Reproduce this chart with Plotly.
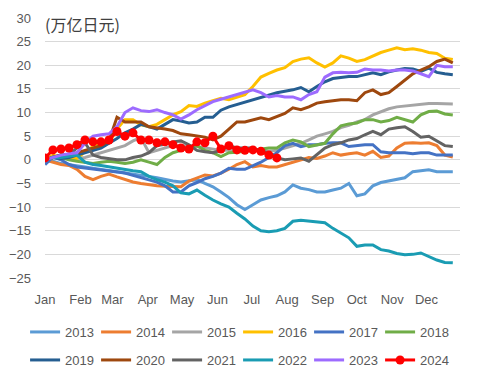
import plotly.graph_objects as go

# ---- data (weekly cumulative values, 万亿日元) ----
months = ["Jan", "Feb", "Mar", "Apr", "May", "Jun", "Jul", "Aug", "Sep", "Oct", "Nov", "Dec"]
month_start_day = [0, 31, 59, 90, 120, 151, 181, 212, 243, 273, 304, 334]
y_ticks = [-25, -20, -15, -10, -5, 0, 5, 10, 15, 20, 25, 30]

y2013 = [0, -0.3, -0.8, -1, -1.2, -1.5, -1.8, -2, -2.2, -2.5, -2.8, -3, -3.2, -3.5, -3.8, -4.2,
         -4.5, -4.7, -4.5, -4.2, -5, -5.7, -6.8, -8, -9.5, -10.5, -9.5, -8.5, -8, -7.6, -6.8, -5.3,
         -6, -6.3, -6.8, -6.8, -6.4, -6, -5, -7.6, -7.2, -5.5, -4.8, -4.5, -4.2, -3.8, -2.5, -2.3,
         -2.1, -2.5, -2.5, -2.5]
y2014 = [0, -0.5, -1, -1.2, -2, -3.5, -4.2, -3.5, -3, -3.6, -4.2, -4.7, -5, -5.3, -5.5, -5.6,
         -5.6, -5.7, -4.5, -3.8, -3.2, -3.4, -2.8, -2, -1, -0.4, -1.5, -1.2, -1.5, -1.5, -1, -0.5,
         0, 0.5, 0.3, 0.8, 1.5, 1, 1.3, 1.5, 1, 1.8, 0.5, 0.8, 2.5, 3.5, 3.6, 3.5, 3.6, 3, 1, 0.6]
y2015 = [0, 0.5, 1, 0.5, 0.3, 0.5, 1, 1.5, 2, 2.5, 3, 4, 4.7, 1.5, 2, 2.5, 3, 3, 3, 2.8, 2.5, 2.3,
         2, 2, 2, 2, 2, 2, 1.8, 2, 2.5, 3, 3.5, 4.2, 5, 5.5, 6, 6.8, 7.3, 8, 8.5, 9.5, 10.2, 10.8,
         11.2, 11.4, 11.6, 11.7, 11.9, 11.9, 11.8, 11.8]
y2016 = [0, 1, 0.5, 0.3, 0.3, 1.7, 2.8, 3.3, 3.6, 6.5, 8.5, 8.5, 7.4, 7, 7.5, 8.5, 9.5, 10.2, 11.5,
         11.3, 12, 12.5, 13, 12.7, 13.3, 13.8, 15.5, 17.5, 18.3, 19, 19.5, 20.8, 21.3, 21.6, 20.5,
         19.6, 20.5, 22, 21.5, 20.8, 21.2, 22, 22.7, 23.2, 23.7, 23.3, 23.5, 23.2, 22.7, 22.5, 21.5, 21.2]
y2017 = [-1, 0.6, 0, -1, -1.5, -1.7, -2, -2.1, -2.4, -2.6, -2.8, -3.3, -3.8, -4.2, -4.7, -5.5, -6.8,
         -6.8, -5.5, -4.8, -4, -3.5, -2.8, -1.8, -2, -2, -1.2, -0.5, 0.5, 1.5, 3, 3.5, 2.8, 3.2, 3.2,
         3.5, 3.6, 3.6, 2.8, 3, 3.2, 3.2, 1.7, 1.5, 1.5, 1.5, 1.3, 1.5, 1.5, 1, 1, 1]
y2018 = [0, 0.5, 0.5, 0, -0.3, -0.5, -0.8, -0.5, -0.3, -0.5, -0.8, -0.5, 0, -0.5, -1, 0.5, 1.5, 2,
         2.5, 3, 2, 1.5, 0.7, 1.5, 1.6, 1.8, 2, 2.2, 2.5, 2.5, 3.6, 4.2, 3.8, 2.8, 3.2, 3.5, 5.5, 7.2,
         7.6, 7.8, 8.5, 8.5, 8, 8.3, 9, 8.5, 8, 9.5, 10.2, 10.3, 9.7, 9.5]
y2019 = [0, 0.5, 0.3, 0.5, 1, 1.5, 2, 2.5, 3.5, 4.5, 5.7, 6.5, 7.5, 7, 6.5, 7.5, 8.5, 8.2, 7.8, 8,
         9, 9, 10.5, 11.2, 11.7, 12.2, 12.6, 13.1, 13.6, 14.2, 14.5, 14.8, 15.3, 14.4, 15.5, 16.5,
         17.2, 17.4, 17.6, 17.6, 18, 18.4, 18, 18.6, 19, 19.3, 19.2, 18.7, 19.4, 18.5, 18.2, 18]
y2020 = [0, 0.5, 1, 1, 1.5, 2, 2.5, 3, 4, 9, 8, 8, 8, 7, 6.8, 6.5, 6.2, 5.5, 5.3, 5, 4.8, 4.2, 5,
         6.5, 8, 8, 8.5, 8.9, 8.5, 9.1, 9.8, 11, 10.6, 11.2, 12, 12.3, 12.5, 12.7, 12.7, 12.5, 14.2,
         14.8, 13.8, 14.2, 15.5, 16.8, 18.2, 19, 19.7, 20.8, 21.3, 20.5]
y2021 = [0, 0.5, 1, 1, 2.5, 3.6, 1, 0.5, 0.3, 0, 0, 0.5, 0.8, 1.5, 3, 3.3, 3.8, 4, 3.2, 2, 1.7, 1.5,
         2, 3, 2.5, 2.5, 2.5, 1.8, 1.5, 0.4, 0, 0.2, 0.4, -0.3, 1.2, 2.5, 3.2, 3.6, 4.2, 4.5, 5.3, 6,
         5.3, 6.5, 6.8, 7, 6, 4.8, 5, 4, 3, 2.8]
y2022 = [0, 0.5, 0.5, 0.8, 1, -0.5, -1, -1.2, -1.5, -1.7, -2, -2.3, -2.5, -3.5, -4.2, -4.7, -5.5,
         -7, -7.2, -6.4, -7.5, -8.5, -9.3, -10, -11.3, -12.5, -14, -15, -15.2, -15, -14.5, -13,
         -12.8, -13, -13.2, -13.3, -14.5, -15.5, -16.5, -18.3, -18, -18, -19, -19.3, -19.8, -20.1,
         -20, -19.7, -20.5, -21.2, -21.7, -21.8]
y2023 = [0, 0.5, 1, 1.3, 1.5, 3.5, 5, 5.3, 5.5, 7, 10, 11, 10.4, 10.2, 10.6, 10, 9.5, 8.6, 9.5,
         10.6, 11.5, 12.3, 12.8, 13.3, 13.8, 14.4, 14.8, 14.2, 13.3, 13.6, 13.3, 13.3, 12.7, 13.8,
         14.4, 17.5, 18.4, 18.5, 18.4, 18.5, 19.2, 19, 19, 18.8, 19, 19, 18.8, 18.2, 17.6, 20, 19.7, 19.7]
y2024 = [0.4, 2.1, 2.3, 2.5, 3.2, 4.2, 3.8, 3.8, 4.2, 6, 5, 5.7, 4.2, 4.2, 3.6, 3.8, 3.2, 2.5, 2.3,
         3.8, 3.6, 5, 2.3, 3, 2.1, 2, 2.1, 1.8, 1, 0.4]

series = [
    ("2013", y2013, "#5B9BD5"), ("2014", y2014, "#ED7D31"), ("2015", y2015, "#A5A5A5"),
    ("2016", y2016, "#FFC000"), ("2017", y2017, "#4472C4"), ("2018", y2018, "#70AD47"),
    ("2019", y2019, "#255E91"), ("2020", y2020, "#9E480E"), ("2021", y2021, "#636363"),
    ("2022", y2022, "#1A9CB3"), ("2023", y2023, "#9D6BFF"), ("2024", y2024, "#FF0000"),
]

fig = go.Figure()
for i, (name, vals, color) in enumerate(series):
    weeks = list(range(len(vals)))
    is_last = name == "2024"
    fig.add_trace(go.Scatter(
        x=weeks, y=vals, name=name,
        mode="lines+markers" if is_last else "lines",
        line=dict(color=color, width=3),
        marker=dict(size=9, color=color) if is_last else None,
        legend="legend" if i < 6 else "legend2",
        hoverinfo="skip",
    ))

tickvals = [d / 7.0 for d in month_start_day]
font_main = "Liberation Sans, Arial, sans-serif"

legend_common = dict(
    orientation="h", xanchor="left", yanchor="middle",
    font=dict(family=font_main, size=13, color="#595959"),
    bgcolor="rgba(0,0,0,0)", borderwidth=0,
    entrywidth=26, entrywidthmode="pixels",
    itemclick=False, itemdoubleclick=False,
)

fig.update_layout(
    width=479, height=382,
    margin=dict(l=45, r=19, t=18, b=104, autoexpand=False),
    plot_bgcolor="white", paper_bgcolor="white",
    showlegend=True,
    legend=dict(x=-0.048, y=-0.2077, **legend_common),
    legend2=dict(x=-0.048, y=-0.3154, **legend_common),
    xaxis=dict(
        range=[0, 51.9], tickmode="array", tickvals=tickvals, ticktext=months,
        showgrid=False, zeroline=False, showline=False,
        ticks="", ticklabelstandoff=12,
        tickfont=dict(family=font_main, size=13, color="#595959"),
    ),
    yaxis=dict(
        range=[-25, 30], tickmode="array", tickvals=y_ticks,
        showgrid=True, gridcolor="#D9D9D9", gridwidth=1.3,
        zeroline=False, showline=False,
        ticks="", ticklabelstandoff=13,
        tickfont=dict(family=font_main, size=13, color="#595959"),
    ),
    annotations=[dict(
        text="(万亿日元)", xref="paper", yref="paper",
        x=-0.008, y=0.977, xanchor="left", yanchor="middle",
        showarrow=False, bgcolor="white", borderpad=2,
        font=dict(family="Noto Sans CJK SC, sans-serif", size=16, color="#404040"),
    )],
)

fig.write_html("out.html", config={"displayModeBar": False},
               post_script="document.body.style.margin='0';")
